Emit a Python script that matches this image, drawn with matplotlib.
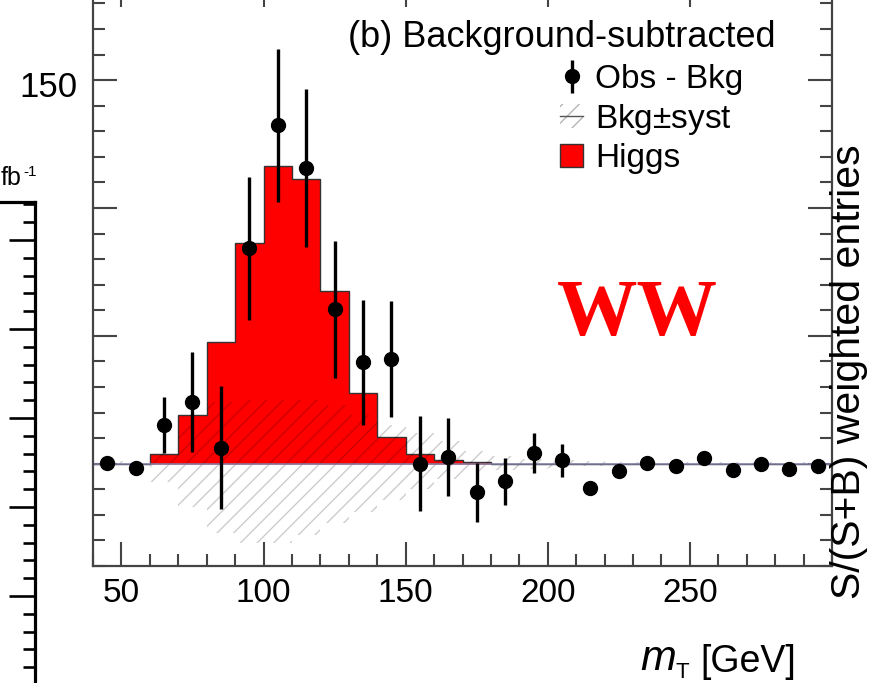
import numpy as np
import matplotlib.pyplot as plt
from matplotlib.patches import Patch
from matplotlib.lines import Line2D
from matplotlib.ticker import MultipleLocator

plt.rcParams['font.family'] = ['Liberation Sans', 'DejaVu Sans']
plt.rcParams['mathtext.fontset'] = 'custom'
plt.rcParams['mathtext.rm'] = 'Liberation Sans'
plt.rcParams['mathtext.it'] = 'Liberation Sans:italic'
plt.rcParams['hatch.linewidth'] = 1.0

# 10 GeV bins in m_T
bin_edges = np.arange(40, 310, 10)
mt_centers = bin_edges[:-1] + 5

# observed minus background, with stat. errors
obs_minus_bkg = [0.3, -1.7, 15.0, 24.0, 6.2, 84.2, 132.3, 115.6, 60.4, 39.7, 41.0, 0.0, 2.6,
                 -11.2, -6.9, 4.2, 1.4, -9.5, -3.0, 0.3, -1.0, 2.2, -2.6, -0.1, -2.1, -0.7]
obs_err = [1.5, 1.5, 11.0, 19.6, 24.0, 28.0, 30.0, 31.0, 26.7, 24.4, 22.6, 18.6, 15.4,
           11.5, 9.3, 7.7, 6.5, 2.5, 2.0, 2.0, 1.5, 1.5, 1.5, 1.5, 1.5, 1.5]

# expected Higgs signal
higgs = [0, 0, 3.9, 19.2, 47.6, 86.5, 116.6, 111.4, 67.6, 27.5, 10.3, 3.9, 1.3,
         0.5, 0, 0, 0, 0, 0, 0, 0, 0, 0, 0, 0, 0]

# background systematic uncertainty band (up / down)
syst_up = [0.5, 1.0, 5.0, 15.0, 24.0, 25.0, 25.0, 25.0, 23.0, 19.0, 15.0, 12.0, 8.7,
           4.8, 3.0, 2.0, 1.5, 1.0, 0.8, 0.6, 0.5, 0.5, 0.5, 0.5, 0.5, 0.5]
syst_down = [0.5, 1.0, 7.0, 17.0, 27.0, 31.0, 31.0, 28.0, 23.0, 19.0, 14.0, 10.0, 6.0,
             3.5, 2.5, 2.0, 1.5, 1.0, 0.8, 0.6, 0.5, 0.5, 0.5, 0.5, 0.5, 0.5]

W, H = 869, 683
fig = plt.figure(figsize=(W / 100, H / 100), dpi=100)

# main panel (b)
ax = fig.add_axes([93 / W, 1 - 566 / H, (832 - 93) / W, (566 + 17) / H])
ax.set_xlim(40, 300)
ax.set_ylim(-40, 188)

ax.stairs(higgs, bin_edges, fill=True, facecolor='#ff0000', edgecolor='#333333',
          linewidth=1.0, zorder=1)
ax.stairs(syst_up, bin_edges, baseline=-np.array(syst_down), fill=True, facecolor='none',
          edgecolor=(0, 0, 0, 0.2), hatch='//', linewidth=0, zorder=2)
ax.axhline(0, color='#8080aa', lw=1.1, zorder=2.5)
eb = ax.errorbar(mt_centers, obs_minus_bkg, yerr=obs_err, fmt='o', color='black',
                 ms=10, elinewidth=2.4, capsize=0, zorder=3)

for s in ax.spines.values():
    s.set_color('#444444')
    s.set_linewidth(1.6)
ax.set_xticks([50, 100, 150, 200, 250])
ax.xaxis.set_minor_locator(MultipleLocator(10))
ax.yaxis.set_major_locator(MultipleLocator(50))
ax.yaxis.set_minor_locator(MultipleLocator(10))
ax.tick_params(which='both', direction='in', top=True, right=True, color='#444444',
               width=1.5, labelsize=24, pad=9)
ax.tick_params(which='major', length=17)
ax.tick_params(which='minor', length=8.5)
ax.tick_params(axis='y', labelleft=False)

# axis title m_T [GeV]
fig.text(640 / W, 1 - 670 / H, 'm', fontsize=31, style='italic', ha='left', va='baseline')
fig.text(675 / W, 1 - 678 / H, 'T', fontsize=16, ha='left', va='baseline')
fig.text(796 / W, 1 - 672 / H, '[GeV]', fontsize=27, ha='right', va='baseline')

handles = [eb,
           (Patch(facecolor='none', edgecolor='#b5b5b5', hatch='//', linewidth=0),
            Line2D([], [], color='#555555', lw=1.0)),
           Patch(facecolor='#ff0000', edgecolor='#333333', linewidth=1.0)]
labels = ['Obs - Bkg', 'Bkg$\\pm$syst', 'Higgs']
ax.legend(handles, labels, loc='upper left', bbox_to_anchor=(560 / W, 1 - 64 / H),
          bbox_transform=fig.transFigure, frameon=False, fontsize=24,
          handlelength=0.7, handletextpad=0.35, labelspacing=0.2,
          borderpad=0, borderaxespad=0)

fig.text(775 / W, 1 - 47 / H, '(b) Background-subtracted', fontsize=26,
         ha='right', va='baseline')
fig.text(637 / W, 1 - 335 / H, 'WW', fontsize=58, color='#ff0000',
         family='Liberation Serif', weight='bold', ha='center', va='baseline')
fig.text(868 / W, 1 - 372 / H, 'S/(S+B) weighted entries', fontsize=29.5,
         rotation=90, ha='right', va='center')

# edge of neighbouring panel (a)
ax_a = fig.add_axes([-0.5, -0.1, 0.5 + 35 / W, 1 - 202 / H + 0.1])
ax_a.set_ylim(4.255, 10.427)
ax_a.yaxis.set_major_locator(MultipleLocator(1))
ax_a.yaxis.set_minor_locator(MultipleLocator(0.2))
ax_a.set_xticks([])
for s in ax_a.spines.values():
    s.set_linewidth(2.3)
ax_a.tick_params(axis='y', which='both', direction='in', left=False, right=True,
                 labelleft=False, width=1.9)
ax_a.tick_params(axis='y', which='major', length=19)
ax_a.tick_params(axis='y', which='minor', length=9)
fig.text(77 / W, 1 - 97 / H, '150', fontsize=25, ha='right', va='baseline')
fig.text(1 / W, 1 - 185 / H, 'fb', fontsize=18, ha='left', va='baseline')
fig.text(23 / W, 1 - 176 / H, '-1', fontsize=11, ha='left', va='baseline')

fig.savefig('out.png', dpi=100)
